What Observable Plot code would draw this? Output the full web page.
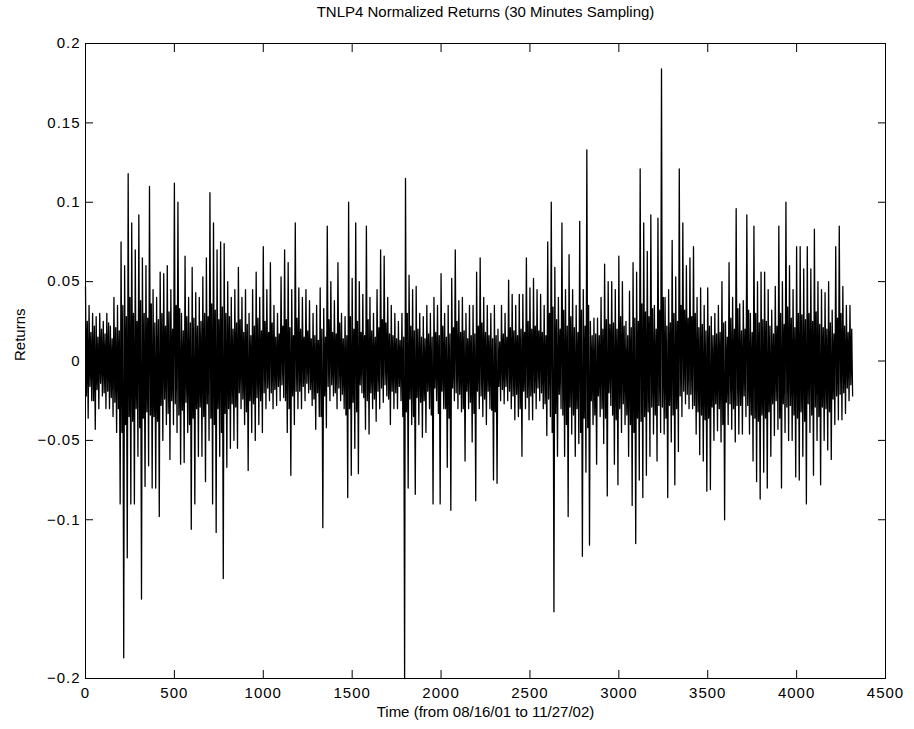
<!DOCTYPE html>
<html>
<head>
<meta charset="utf-8">
<script src="https://cdn.jsdelivr.net/npm/d3@7"></script>
<script src="https://cdn.jsdelivr.net/npm/@observablehq/plot@0.6"></script>
<style>
html, body { margin: 0; padding: 0; background: #fff; }
#chart svg { display: block; }
#chart g[aria-label="x-axis tick label"], #chart g[aria-label="y-axis tick label"] { letter-spacing: 1px; }
</style>
</head>
<body>
<div id="chart"></div>
<script>
// ---- Text ----
const titleText = "TNLP4 Normalized Returns (30 Minutes Sampling)";
const xLabelText = "Time (from 08/16/01 to 11/27/02)";
const yLabelText = "Returns";

// ---- Tick values ----
const xTicks = [0, 500, 1000, 1500, 2000, 2500, 3000, 3500, 4000, 4500];
const yTicks = [0.2, 0.15, 0.1, 0.05, 0, -0.05, -0.1, -0.2];

// ---- Series: returns, per block of 20 samples ----
const blockSize = 20;
// highest return within each block
const blockHigh = [
  .047,.035,.03,.028,.03,.025,.03,.022,.04,.035,
  .075,.06,.118,.087,.07,.092,.065,.06,.11,.045,
  .04,.056,.055,.06,.045,.112,.1,.03,.066,.04,
  .059,.043,.04,.053,.065,.106,.087,.07,.075,.074,
  .05,.04,.045,.059,.04,.045,.03,.045,.056,.04,
  .072,.045,.062,.035,.03,.053,.07,.062,.045,.087,
  .046,.04,.045,.038,.03,.035,.046,.033,.085,.05,
  .038,.062,.03,.028,.1,.052,.087,.05,.042,.085,
  .04,.03,.045,.07,.066,.04,.035,.03,.025,.03,
  .115,.054,.045,.047,.03,.028,.035,.03,.04,.035,
  .055,.03,.035,.052,.07,.038,.04,.03,.035,.035,
  .056,.065,.04,.035,.03,.035,.02,.035,.03,.051,
  .042,.035,.042,.042,.065,.046,.052,.045,.042,.035,
  .075,.1,.059,.04,.087,.045,.067,.045,.035,.088,
  .045,.133,.025,.027,.027,.04,.061,.05,.05,.045,
  .066,.05,.025,.044,.062,.056,.121,.087,.069,.092,
  .035,.09,.184,.04,.045,.076,.053,.121,.087,.06,
  .065,.072,.04,.046,.035,.046,.028,.03,.035,.05,
  .025,.062,.04,.096,.036,.038,.092,.03,.085,.05,
  .056,.056,.045,.032,.047,.085,.05,.1,.06,.045,
  .072,.072,.058,.072,.058,.083,.05,.045,.043,.05,
  .032,.072,.085,.047,.035,.035
];
// lowest return within each block
const blockLow = [
  -.036,-.025,-.043,-.03,-.022,-.03,-.03,-.035,-.045,-.09,
  -.187,-.124,-.09,-.09,-.06,-.15,-.079,-.066,-.08,-.08,
  -.098,-.05,-.04,-.062,-.04,-.045,-.065,-.064,-.045,-.106,
  -.09,-.06,-.06,-.076,-.05,-.09,-.108,-.06,-.137,-.067,
  -.055,-.05,-.055,-.03,-.04,-.069,-.045,-.05,-.04,-.045,
  -.03,-.025,-.03,-.028,-.025,-.023,-.045,-.072,-.04,-.03,
  -.03,-.025,-.02,-.028,-.043,-.035,-.105,-.042,-.025,-.022,
  -.03,-.025,-.03,-.086,-.072,-.055,-.071,-.02,-.043,-.046,
  -.03,-.038,-.03,-.026,-.022,-.04,-.03,-.03,-.025,-.2,
  -.08,-.04,-.084,-.04,-.048,-.045,-.03,-.09,-.025,-.09,
  -.03,-.067,-.094,-.025,-.03,-.032,-.063,-.03,-.051,-.088,
  -.03,-.035,-.04,-.03,-.075,-.077,-.025,-.027,-.025,-.03,
  -.037,-.035,-.06,-.03,-.037,-.037,-.03,-.025,-.03,-.047,
  -.035,-.158,-.06,-.03,-.06,-.098,-.046,-.06,-.052,-.123,
  -.07,-.116,-.04,-.065,-.035,-.052,-.085,-.028,-.065,-.078,
  -.045,-.04,-.06,-.091,-.115,-.075,-.086,-.072,-.06,-.046,
  -.063,-.045,-.046,-.086,-.051,-.078,-.057,-.035,-.027,-.03,
  -.03,-.046,-.059,-.063,-.082,-.081,-.05,-.044,-.051,-.1,
  -.04,-.043,-.051,-.046,-.046,-.035,-.046,-.063,-.076,-.087,
  -.07,-.08,-.06,-.047,-.043,-.08,-.045,-.05,-.05,-.073,
  -.075,-.06,-.09,-.045,-.072,-.05,-.078,-.05,-.056,-.062,
  -.04,-.037,-.037,-.033,-.025,-.022
];
// second swing inside each block (edge of the dense central band)
const blockMidHigh = [
  .025,.018,.022,.015,.02,.017,.024,.014,.021,.019,
  .035,.028,.04,.03,.025,.038,.03,.027,.036,.024,
  .026,.03,.022,.031,.02,.035,.033,.019,.028,.024,
  .027,.022,.025,.03,.028,.036,.032,.026,.034,.03,
  .028,.02,.024,.026,.018,.023,.016,.022,.027,.019,
  .025,.018,.024,.015,.017,.022,.026,.021,.016,.027,
  .02,.015,.019,.014,.016,.013,.02,.015,.026,.018,
  .017,.024,.014,.016,.028,.02,.025,.018,.016,.026,
  .019,.015,.021,.026,.024,.017,.016,.014,.013,.015,
  .03,.022,.019,.02,.015,.014,.017,.015,.018,.016,
  .022,.015,.017,.021,.025,.018,.019,.014,.016,.017,
  .022,.024,.018,.016,.014,.016,.012,.017,.015,.021,
  .019,.016,.02,.018,.025,.02,.022,.019,.018,.016,
  .03,.034,.026,.02,.032,.022,.028,.021,.018,.032,
  .022,.035,.016,.017,.016,.02,.026,.023,.024,.02,
  .028,.022,.016,.021,.027,.025,.036,.031,.028,.033,
  .02,.032,.04,.022,.024,.03,.025,.035,.032,.027,
  .028,.03,.021,.023,.019,.022,.016,.017,.018,.024,
  .015,.027,.02,.033,.019,.02,.032,.018,.03,.024,
  .026,.025,.022,.017,.022,.03,.023,.034,.027,.021,
  .03,.029,.026,.03,.025,.031,.023,.021,.02,.024,
  .017,.027,.03,.022,.018,.02
];
const blockMidLow = [
  -.022,-.016,-.025,-.018,-.014,-.02,-.019,-.023,-.026,-.03,
  -.045,-.04,-.035,-.038,-.03,-.042,-.036,-.032,-.034,-.035,
  -.038,-.028,-.024,-.033,-.025,-.027,-.034,-.031,-.026,-.04,
  -.036,-.03,-.029,-.035,-.027,-.036,-.04,-.03,-.045,-.033,
  -.03,-.027,-.029,-.02,-.024,-.032,-.025,-.027,-.023,-.025,
  -.02,-.017,-.02,-.018,-.016,-.015,-.025,-.03,-.022,-.019,
  -.019,-.016,-.014,-.018,-.024,-.02,-.035,-.022,-.016,-.015,
  -.02,-.017,-.021,-.034,-.03,-.026,-.032,-.015,-.023,-.025,
  -.02,-.024,-.019,-.017,-.015,-.024,-.019,-.02,-.016,-.035,
  -.032,-.024,-.035,-.023,-.026,-.025,-.019,-.034,-.017,-.033,
  -.019,-.03,-.036,-.017,-.02,-.021,-.03,-.019,-.026,-.033,
  -.019,-.022,-.024,-.019,-.031,-.032,-.016,-.018,-.016,-.019,
  -.022,-.021,-.03,-.019,-.023,-.022,-.02,-.017,-.02,-.027,
  -.024,-.045,-.033,-.021,-.034,-.04,-.029,-.034,-.03,-.045,
  -.036,-.042,-.025,-.034,-.022,-.03,-.036,-.02,-.034,-.037,
  -.03,-.027,-.034,-.04,-.045,-.036,-.038,-.035,-.032,-.029,
  -.034,-.028,-.029,-.036,-.028,-.034,-.03,-.022,-.019,-.021,
  -.021,-.028,-.032,-.034,-.037,-.036,-.029,-.027,-.03,-.04,
  -.026,-.027,-.03,-.028,-.028,-.022,-.028,-.034,-.036,-.038,
  -.034,-.036,-.032,-.027,-.025,-.036,-.027,-.029,-.028,-.034,
  -.036,-.032,-.038,-.027,-.034,-.029,-.035,-.029,-.03,-.032,
  -.024,-.022,-.021,-.02,-.017,-.015
];

// Build the line table in time order: high, mid low, mid high, low of each block
const points = [];
blockHigh.forEach((h, i) => {
  const t = i * blockSize;
  points.push({t: t, v: h});
  points.push({t: t + 5, v: blockMidLow[i]});
  points.push({t: t + 10, v: blockMidHigh[i]});
  points.push({t: t + 15, v: blockLow[i]});
});

const fontFamily = '"Liberation Sans", Arial, Helvetica, sans-serif';
const yFormat = d3.format("");

const chart = Plot.plot({
  width: 914,
  height: 729,
  marginLeft: 85,
  marginRight: 29,
  marginTop: 43,
  marginBottom: 51,
  style: {fontFamily, fontSize: "15px", color: "black", background: "white"},
  x: {domain: [0, 4500], nice: false},
  y: {domain: [-0.2, 0.2], nice: false},
  marks: [
    Plot.line(points, {x: "t", y: "v", stroke: "black", strokeWidth: 1.3}),
    Plot.frame({stroke: "black", strokeWidth: 1}),
    Plot.axisX(xTicks, {anchor: "bottom", tickSize: -8, fill: "none", label: null}),
    Plot.axisX(xTicks, {anchor: "top", tickSize: -8, fill: "none", label: null}),
    Plot.axisX(xTicks, {anchor: "bottom", tickSize: 0, tickPadding: 9, label: null, tickFormat: d3.format("d"), fontSize: 15}),
    Plot.axisY(yTicks, {anchor: "left", tickSize: -8, fill: "none", label: null}),
    Plot.axisY(yTicks, {anchor: "right", tickSize: -8, fill: "none", label: null}),
    Plot.axisY(yTicks, {anchor: "left", tickSize: 0, tickPadding: 5, label: null, tickFormat: yFormat, fontSize: 15}),
    Plot.text([titleText], {frameAnchor: "top", lineAnchor: "middle", dy: -31, fontSize: 15}),
    Plot.text([xLabelText], {frameAnchor: "bottom", lineAnchor: "middle", dy: 34, fontSize: 15}),
    Plot.text([yLabelText], {frameAnchor: "left", lineAnchor: "middle", dx: -65, rotate: -90, fontSize: 15})
  ]
});
document.getElementById("chart").appendChild(chart);
</script>
</body>
</html>
